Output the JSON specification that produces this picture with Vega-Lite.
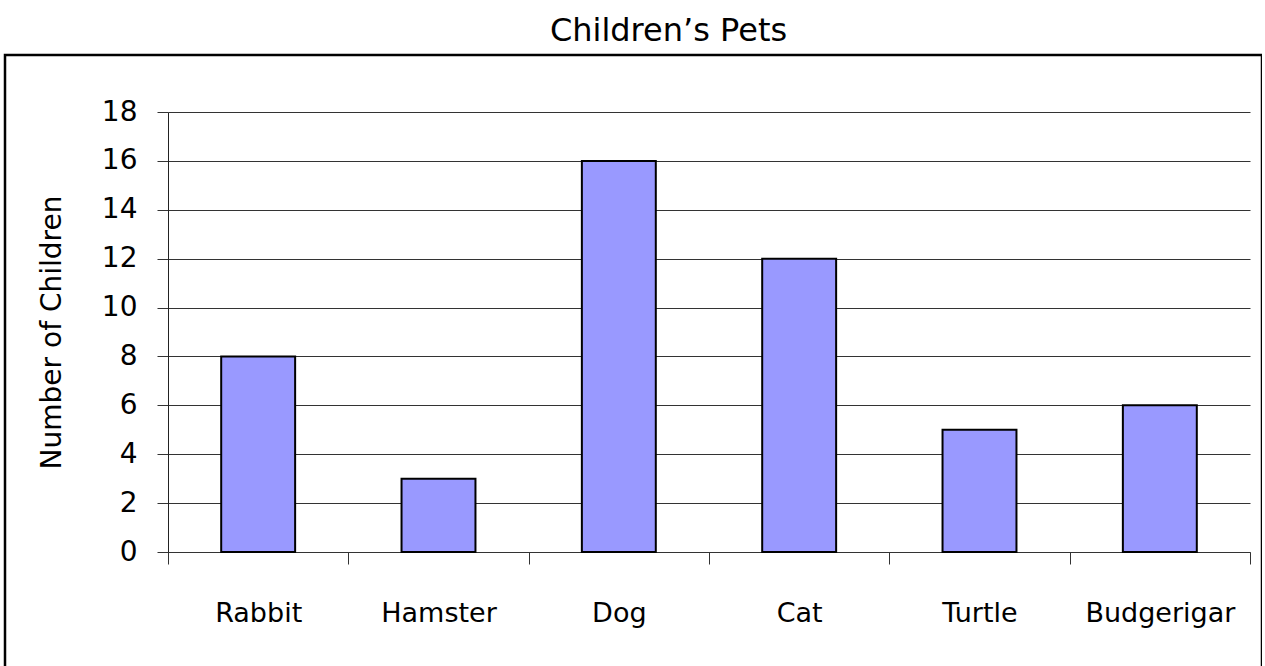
{
  "$schema": "https://vega.github.io/schema/vega-lite/v6.json",
  "width": 1257,
  "height": 613,
  "autosize": {"type": "none"},
  "padding": {"left": 5, "top": 55, "right": 0, "bottom": 0},
  "background": "white",
  "title": {
    "text": "Children’s Pets",
    "font": "DejaVu Sans",
    "fontSize": 32,
    "fontWeight": "normal",
    "color": "#000",
    "anchor": "middle",
    "frame": "group",
    "dx": 35,
    "dy": 33,
    "baseline": "alphabetic",
    "offset": 15
  },
  "data": {
    "values": [
      {"pet": "Rabbit", "children": 8},
      {"pet": "Hamster", "children": 3},
      {"pet": "Dog", "children": 16},
      {"pet": "Cat", "children": 12},
      {"pet": "Turtle", "children": 5},
      {"pet": "Budgerigar", "children": 6}
    ]
  },
  "mark": {"type": "bar", "width": {"band": 0.41}, "fill": "#9999FF", "stroke": "#000", "strokeWidth": 2},
  "encoding": {
    "x": {
      "field": "pet",
      "type": "nominal",
      "sort": null,
      "scale": {"range": [163, 1245], "paddingInner": 0, "paddingOuter": 0},
      "axis": {
        "title": null,
        "orient": "bottom",
        "offset": -116,
        "tickBand": "extent",
        "labelAngle": 0,
        "labelFont": "DejaVu Sans",
        "labelFontSize": 27,
        "labelColor": "#000",
        "labelPadding": 36,
        "labelBaseline": "top",
        "tickSize": 12,
        "tickColor": "#333",
        "tickWidth": 1,
        "domainColor": "#333",
        "domainWidth": 1,
        "grid": false
      }
    },
    "y": {
      "field": "children",
      "type": "quantitative",
      "scale": {"domain": [0, 18], "range": [497, 57], "nice": false},
      "axis": {
        "title": "Number of Children",
        "titleFont": "DejaVu Sans",
        "titleFontSize": 28,
        "titleFontWeight": "normal",
        "titleColor": "#000",
        "titlePadding": 35,
        "orient": "left",
        "offset": -163,
        "values": [0, 2, 4, 6, 8, 10, 12, 14, 16, 18],
        "labelFont": "DejaVu Sans",
        "labelFontSize": 28,
        "labelColor": "#000",
        "labelPadding": 20,
        "tickSize": 11,
        "tickColor": "#333",
        "tickWidth": 1,
        "domainColor": "#222",
        "domainWidth": 1,
        "grid": true,
        "gridColor": "#333",
        "gridWidth": 1
      }
    }
  },
  "config": {
    "view": {"stroke": "#000", "strokeWidth": 2.5, "fill": "white"}
  }
}
